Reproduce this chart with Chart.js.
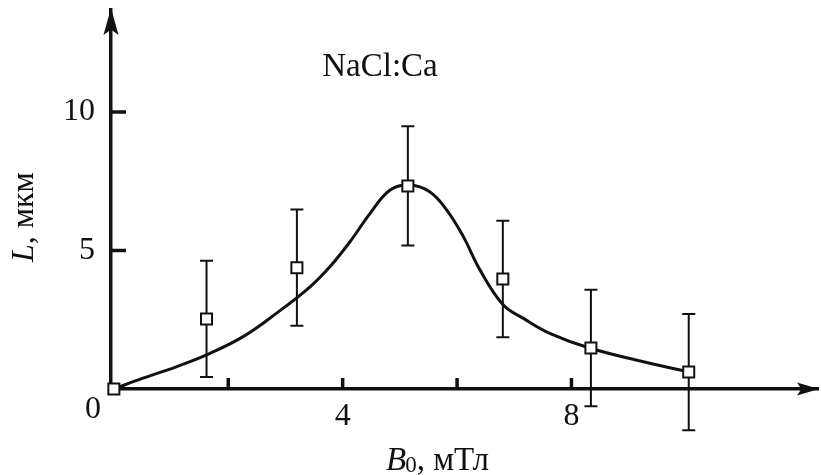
<!DOCTYPE html>
<html>
<head>
<meta charset="utf-8">
<script src="https://cdn.jsdelivr.net/npm/chart.js@4.4.0/dist/chart.umd.min.js"></script>
<style>
body{margin:0;background:#fff;}
#wrap{width:821px;height:475px;}
</style>
</head>
<body>
<div id="wrap"><canvas id="myChart" width="821" height="475"></canvas></div>
<script>
// измеренные точки: B0 (мТл), L (мкм), погрешность L
var pointsB=[0,1.62,3.20,5.14,6.80,8.34,10.05];
var pointsL=[0,2.53,4.38,7.33,3.97,1.48,0.61];
var errorsL=[0,2.1,2.1,2.15,2.1,2.1,2.1];

// сглаживающая кривая
var curveB=[0,0.51,1.10,1.62,2.26,2.84,3.43,3.78,4.13,4.48,4.83,5.16,5.52,5.82,6.11,6.40,6.81,7.16,7.62,8.33,9.37,10.05];
var curveL=[0,0.39,0.81,1.23,1.89,2.73,3.69,4.42,5.32,6.34,7.18,7.36,7.12,6.46,5.50,4.30,3.03,2.55,2.01,1.47,0.93,0.62];

// риски и подписи осей
var ticksB=[2,4,6,8];
var labelsB=[4,8];
var ticksL=[5,10];
var labelsL=[5,10];

var serif="'Liberation Serif','Times New Roman',serif";
Chart.defaults.font.family=serif;
Chart.defaults.color='#111';

function toXY(xs,ys){
	var out=[];
	for(var i=0;i<xs.length;i++){ out.push({x:xs[i],y:ys[i]}); }
	return out;
}

function arrowHead(ctx,tx,ty,dx,dy,len,half){
	var bx=tx-dx*len, by=ty-dy*len;
	var nx=-dy, ny=dx;
	ctx.beginPath();
	ctx.moveTo(tx,ty);
	ctx.lineTo(bx+nx*half,by+ny*half);
	ctx.lineTo(tx-dx*len*0.8,ty-dy*len*0.8);
	ctx.lineTo(bx-nx*half,by-ny*half);
	ctx.closePath();
	ctx.fill();
}

// усы погрешностей, стрелки, риски и надписи
var decor={
	id:'decor',
	beforeDatasetsDraw:function(chart){
		var ctx=chart.ctx, sx=chart.scales.x, sy=chart.scales.y;
		ctx.save();
		ctx.strokeStyle='#111';
		ctx.lineWidth=2;
		for(var i=0;i<pointsB.length;i++){
			if(!errorsL[i]) continue;
			var px=sx.getPixelForValue(pointsB[i]);
			var top=sy.getPixelForValue(pointsL[i]+errorsL[i]);
			var bot=sy.getPixelForValue(pointsL[i]-errorsL[i]);
			ctx.beginPath();
			ctx.moveTo(px,top); ctx.lineTo(px,bot);
			ctx.moveTo(px-6.5,top); ctx.lineTo(px+6.5,top);
			ctx.moveTo(px-6.5,bot); ctx.lineTo(px+6.5,bot);
			ctx.stroke();
		}
		ctx.restore();
	},
	afterDraw:function(chart){
		var ctx=chart.ctx, sx=chart.scales.x, sy=chart.scales.y;
		var ax=chart.chartArea.left, ay=sy.getPixelForValue(0);
		ctx.save();
		ctx.fillStyle='#111';
		ctx.strokeStyle='#111';
		ctx.lineWidth=3.5;

		// риски внутрь
		ctx.beginPath();
		ticksB.forEach(function(v){
			var p=sx.getPixelForValue(v);
			ctx.moveTo(p,ay); ctx.lineTo(p,ay-11);
		});
		ticksL.forEach(function(v){
			var p=sy.getPixelForValue(v);
			ctx.moveTo(ax,p); ctx.lineTo(ax+15,p);
		});
		ctx.stroke();

		// стрелки
		arrowHead(ctx,ax,8,0,-1,27,7.5);
		arrowHead(ctx,chart.chartArea.right+1,ay,1,0,22,6.5);

		// начало координат
		ctx.font='32px '+serif;
		ctx.textAlign='center';
		ctx.textBaseline='alphabetic';
		ctx.fillText('0',93,418);

		// NaCl:Ca
		ctx.font='33px '+serif;
		ctx.fillText('NaCl:Ca',380,76);

		// подпись оси B0
		ctx.textAlign='left';
		var x0=386, base=470;
		ctx.font='italic 33px '+serif;
		ctx.fillText('B',x0,base);
		x0+=ctx.measureText('B').width-1;
		ctx.font='23px '+serif;
		ctx.fillText('0',x0,base+2);
		x0+=ctx.measureText('0').width;
		ctx.font='33px '+serif;
		ctx.fillText(', мТл',x0,base);

		// подпись оси L
		ctx.translate(33,262);
		ctx.rotate(-Math.PI/2);
		ctx.font='italic 32px '+serif;
		ctx.fillText('L',0,0);
		var w=ctx.measureText('L').width;
		ctx.font='32px '+serif;
		ctx.fillText(', мкм',w,0);
		ctx.restore();
	}
};

var myChart=document.getElementById('myChart');

var grafica=new Chart(myChart,{
	type:'scatter',
	data:{
		datasets:[
		//точки
		{
			data:toXY(pointsB,pointsL),
			showLine:false,
			pointStyle:'rect',
			pointRadius:7.8,
			pointBackgroundColor:'#fff',
			pointBorderColor:'#111',
			pointBorderWidth:2,
			clip:false,
			order:0
		},
		//кривая
		{
			data:toXY(curveB,curveL),
			showLine:true,
			borderColor:'#111',
			borderWidth:3,
			pointRadius:0,
			tension:0.4,
			order:1
		}
		]
	},
	options:{
		responsive:false,
		animation:false,
		layout:{autoPadding:false,padding:{top:10,right:3,left:0,bottom:0}},
		plugins:{legend:{display:false},tooltip:{enabled:false}},
		scales:{
			x:{
				type:'linear',
				min:-0.05,
				max:12.31,
				grid:{display:false,drawTicks:false},
				border:{display:true,color:'#111',width:3.5},
				ticks:{
					stepSize:2,
					autoSkip:false,
					maxRotation:0,
					padding:8,
					color:'#111',
					font:{family:serif,size:32},
					callback:function(v){ return labelsB.indexOf(v)>=0 ? String(v) : ''; }
				},
				afterFit:function(s){ s.height=86; s.paddingLeft=0; s.paddingRight=0; }
			},
			y:{
				type:'linear',
				min:0,
				max:13.68,
				grid:{display:false,drawTicks:false},
				border:{display:true,color:'#111',width:3.5},
				ticks:{
					stepSize:5,
					padding:16,
					color:'#111',
					font:{family:serif,size:32},
					callback:function(v){ return labelsL.indexOf(v)>=0 ? String(v) : ''; }
				},
				afterFit:function(s){ s.width=111; s.paddingTop=0; s.paddingBottom=0; }
			}
		}
	},
	plugins:[decor]
});
</script>
</body>
</html>
